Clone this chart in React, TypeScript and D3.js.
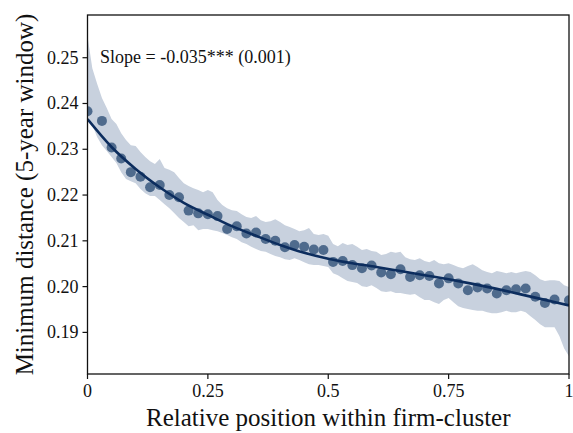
import React from "react";
import * as d3 from "d3";

const bandX: number[] = d3.range(0, 101).map((i) => i / 100);
const bandUpper: number[] = [
  0.2547, 0.2477, 0.2443, 0.2412, 0.239, 0.2366, 0.2355, 0.2335, 0.232, 0.2309,
  0.2307, 0.2294, 0.2283, 0.2274, 0.2268, 0.2279, 0.2259, 0.2255, 0.225, 0.2237,
  0.2226, 0.222, 0.2215, 0.2211, 0.2206, 0.2211, 0.2206, 0.2189, 0.2178, 0.2171,
  0.2167, 0.2165, 0.2158, 0.2152, 0.215, 0.2154, 0.2145, 0.2141, 0.2143, 0.2147,
  0.2141, 0.2134, 0.213, 0.2126, 0.2121, 0.2123, 0.2128, 0.2115, 0.2113, 0.2115,
  0.2111, 0.2093, 0.2088, 0.2095, 0.2091, 0.2093, 0.2087, 0.208, 0.2082, 0.2078,
  0.2076, 0.2069, 0.2071, 0.2076, 0.2074, 0.2076, 0.2064, 0.206, 0.2058, 0.2062,
  0.2056, 0.2053, 0.2058, 0.2051, 0.2049, 0.2051, 0.2047, 0.2043, 0.204, 0.2045,
  0.2049, 0.2043, 0.2036, 0.2032, 0.2029, 0.2034, 0.2032, 0.2029, 0.2032, 0.2029,
  0.2032, 0.2034, 0.2032, 0.2025, 0.2016, 0.2012, 0.2014, 0.2014, 0.2012, 0.2003,
  0.1999,
];
const bandLower: number[] = [
  0.2373, 0.2353, 0.2327, 0.2309, 0.2296, 0.2283, 0.227, 0.225, 0.2235, 0.223,
  0.2226, 0.2213, 0.2204, 0.2198, 0.2198, 0.2189, 0.218, 0.2171, 0.2161, 0.215,
  0.2141, 0.2132, 0.2134, 0.2123, 0.2126, 0.2126, 0.2123, 0.2121, 0.2117, 0.2113,
  0.2108, 0.2104, 0.2097, 0.2093, 0.2087, 0.2082, 0.2078, 0.2076, 0.2071, 0.2067,
  0.2064, 0.206, 0.2058, 0.2062, 0.2058, 0.2053, 0.2049, 0.2047, 0.2047, 0.2045,
  0.2043, 0.2029, 0.2025, 0.2018, 0.2012, 0.201, 0.2008, 0.2001, 0.1999, 0.2003,
  0.1997, 0.199, 0.1988, 0.199, 0.1986, 0.1986, 0.1984, 0.1982, 0.1984, 0.1977,
  0.1971, 0.1971, 0.1966, 0.1962, 0.1971, 0.1975, 0.1966, 0.1957, 0.1953, 0.1951,
  0.1949, 0.1947, 0.1947, 0.1944, 0.1942, 0.1942, 0.1944, 0.1947, 0.1944, 0.1944,
  0.1947, 0.1944, 0.1935, 0.1927, 0.1918, 0.1911, 0.1911, 0.1911, 0.1892, 0.1865,
  0.1848,
];

const pointX: number[] = [
  0, 0.03, 0.05, 0.07, 0.09, 0.11, 0.13, 0.15, 0.17, 0.19, 0.21, 0.23, 0.25, 0.27,
  0.29, 0.31, 0.33, 0.35, 0.37, 0.39, 0.41, 0.43, 0.45, 0.47, 0.49, 0.51, 0.53,
  0.55, 0.57, 0.59, 0.61, 0.63, 0.65, 0.67, 0.69, 0.71, 0.73, 0.75, 0.77, 0.79,
  0.81, 0.83, 0.85, 0.87, 0.89, 0.91, 0.93, 0.95, 0.97, 1,
];
const pointY: number[] = [
  0.2383, 0.2362, 0.2304, 0.228, 0.225, 0.224, 0.2217, 0.2222, 0.22, 0.2195,
  0.2166, 0.216, 0.2158, 0.2154, 0.2126, 0.2132, 0.2116, 0.2118, 0.2104, 0.21,
  0.2086, 0.2091, 0.2087, 0.2081, 0.208, 0.2054, 0.2056, 0.2047, 0.204, 0.2046,
  0.2031, 0.2027, 0.2038, 0.2021, 0.2025, 0.2023, 0.2007, 0.2018, 0.2007, 0.1992,
  0.1998, 0.1996, 0.1985, 0.1992, 0.1994, 0.1996, 0.1978, 0.1964, 0.1972, 0.197,
];

const fitX: number[] = [
  0, 0.05, 0.1, 0.15, 0.2, 0.25, 0.3, 0.35, 0.4, 0.45, 0.5, 0.55, 0.6, 0.65, 0.7,
  0.75, 0.8, 0.85, 0.9, 0.95, 1,
];
const fitY: number[] = [
  0.2366, 0.2305, 0.2257, 0.2217, 0.2183, 0.2157, 0.2132, 0.2111, 0.2091, 0.2074,
  0.2061, 0.2051, 0.2043, 0.2034, 0.2025, 0.2016, 0.2006, 0.1995, 0.1983, 0.1971,
  0.1959,
];

const xTicks: number[] = [0, 0.25, 0.5, 0.75, 1];
const xTickLabels: string[] = ["0", "0.25", "0.5", "0.75", "1"];
const yTicks: number[] = [0.19, 0.2, 0.21, 0.22, 0.23, 0.24, 0.25];
const yTickLabels: string[] = ["0.19", "0.20", "0.21", "0.22", "0.23", "0.24", "0.25"];

const annotation = "Slope = -0.035*** (0.001)";
const xLabel = "Relative position within firm-cluster";
const yLabel = "Minimum distance (5-year window)";

const FONT = "Liberation Serif, Times New Roman, serif";

export default function App() {
  const W = 573;
  const H = 433;
  const left = 87.5;
  const right = 569;
  const top = 15;
  const bottom = 374;
  const x = d3.scaleLinear().domain([0, 1]).range([left, right]);
  const y = d3.scaleLinear().domain([0.18091, 0.25933]).range([bottom, top]);

  const area = d3
    .area<number>()
    .x((_, i) => x(bandX[i]))
    .y0((_, i) => y(bandLower[i]))
    .y1((_, i) => y(bandUpper[i]));
  const line = d3
    .line<number>()
    .x((_, i) => x(fitX[i]))
    .y((d) => y(d))
    .curve(d3.curveMonotoneX);

  const ts = { fontFamily: FONT };

  return (
    <svg
      width={W}
      height={H}
      style={{ position: "absolute", left: 0, top: 0, background: "#fff", fontFamily: FONT }}
    >
      <defs>
        <clipPath id="plotclip">
          <rect x={left} y={top} width={right - left} height={bottom - top} />
        </clipPath>
      </defs>
      <g clipPath="url(#plotclip)">
        <path d={area(bandUpper) || ""} fill="#c8d1de" />
        {pointX.map((px, i) => (
          <circle key={i} cx={x(px)} cy={y(pointY[i])} r={5} fill="#4f6b8d" />
        ))}
        <path d={line(fitY) || ""} fill="none" stroke="#0c2d5e" strokeWidth={2.6} />
      </g>
      <rect
        x={left}
        y={top}
        width={right - left}
        height={bottom - top}
        fill="none"
        stroke="#111"
        strokeWidth={1.3}
      />
      {xTicks.map((t, i) => (
        <g key={"x" + i}>
          <line x1={x(t)} x2={x(t)} y1={bottom} y2={bottom + 5} stroke="#111" strokeWidth={1.2} />
          <text x={x(t)} y={bottom + 23} textAnchor="middle" fontSize={18} fill="#111" style={ts}>
            {xTickLabels[i]}
          </text>
        </g>
      ))}
      {yTicks.map((t, i) => (
        <g key={"y" + i}>
          <line x1={left - 5} x2={left} y1={y(t)} y2={y(t)} stroke="#111" strokeWidth={1.2} />
          <text
            x={left - 9}
            y={y(t)}
            dy="0.33em"
            textAnchor="end"
            fontSize={18}
            fill="#111"
            style={ts}
          >
            {yTickLabels[i]}
          </text>
        </g>
      ))}
      <text x={100} y={62.5} fontSize={18} fill="#111" style={ts}>
        {annotation}
      </text>
      <text x={(left + right) / 2} y={426} textAnchor="middle" fontSize={25} fill="#111" style={ts}>
        {xLabel}
      </text>
      <text
        transform={`translate(33, ${(top + bottom) / 2}) rotate(-90)`}
        textAnchor="middle"
        fontSize={25}
        fill="#111"
        style={ts}
      >
        {yLabel}
      </text>
    </svg>
  );
}
